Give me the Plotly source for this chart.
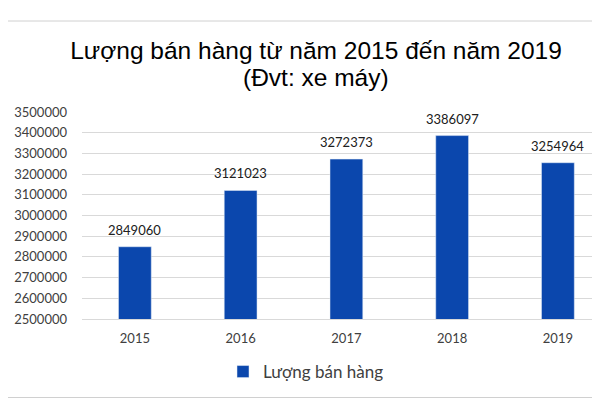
import plotly.graph_objects as pgo

years = ["2015", "2016", "2017", "2018", "2019"]
sales = [2849060, 3121023, 3272373, 3386097, 3254964]
series_name = "Lượng bán hàng"
title_line1 = "Lượng bán hàng từ năm 2015 đến năm 2019"
title_line2 = "(Đvt: xe máy)"

bar_color = "#0B47AD"
text_color = "#404040"
grid_color = "#D9D9D9"

# page has an 8px body margin, so the figure is drawn 8px smaller and shifted
off = 8
W, H = 600 - off, 400 - off
# plot area in pixels (minus the offset)
left, right, top, bottom = 82 - off, 598 - off, 112 - off, 319 - off
pw = right - left
ph = bottom - top
slot = 105.5  # px per category
first_center = 136 - off

fig = pgo.Figure()
fig.add_trace(pgo.Bar(x=years, y=sales, name=series_name, marker_color=bar_color,
                      width=0.31, showlegend=True))

# value labels above bars
for i, v in enumerate(sales):
    fig.add_annotation(x=i, y=v, text=str(v), showarrow=False, yanchor="bottom",
                       yshift=7, font=dict(family="Lato", size=13, color="#202020"))

# second title line (unit)
fig.add_annotation(text=title_line2, xref="paper", yref="paper",
                   x=(316 - off - left) / pw, y=(bottom - (78 - off)) / ph,
                   xanchor="center", yanchor="middle", showarrow=False,
                   font=dict(family="Liberation Sans", size=24.5, color="#000000"))

# outer chart frame
fig.add_shape(type="rect", xref="paper", yref="paper",
              x0=(0.5 - off - left) / pw, x1=(599 - off - left) / pw,
              y0=(bottom - (397.5 - off)) / ph, y1=(bottom - (21 - off)) / ph,
              line=dict(color="#D0D0D0", width=1), layer="below")

fig.update_layout(
    width=W, height=H,
    margin=dict(l=left, r=W - right, t=top, b=H - bottom, pad=0),
    paper_bgcolor="white", plot_bgcolor="white",
    title=dict(text=title_line1,
               x=(316 - off) / W, xanchor="center", y=1 - (50 - off) / H, yanchor="middle",
               yref="container",
               font=dict(family="Liberation Sans", size=24.5, color="#000000")),
    legend=dict(orientation="h", x=(306 - off - left) / pw, xanchor="center",
                y=-(372 - off - bottom) / ph, yanchor="middle",
                font=dict(family="Lato", size=17, color=text_color),
                itemwidth=30),
    bargap=0.7,
)
fig.update_xaxes(type="category", range=[-0.5, -0.5 + (right - first_center + slot / 2) / slot],
                 showgrid=False, showline=True, linecolor=grid_color, linewidth=1,
                 ticks="", tickfont=dict(family="Lato", size=13, color=text_color),
                 ticklabelstandoff=7)
fig.update_yaxes(range=[2500000, 3500000], dtick=100000, tickformat="d",
                 showgrid=True, gridcolor=grid_color, gridwidth=1, zeroline=False,
                 ticks="", tickfont=dict(family="Lato", size=13, color=text_color),
                 ticklabelstandoff=14)

fig.write_html("out.html")
